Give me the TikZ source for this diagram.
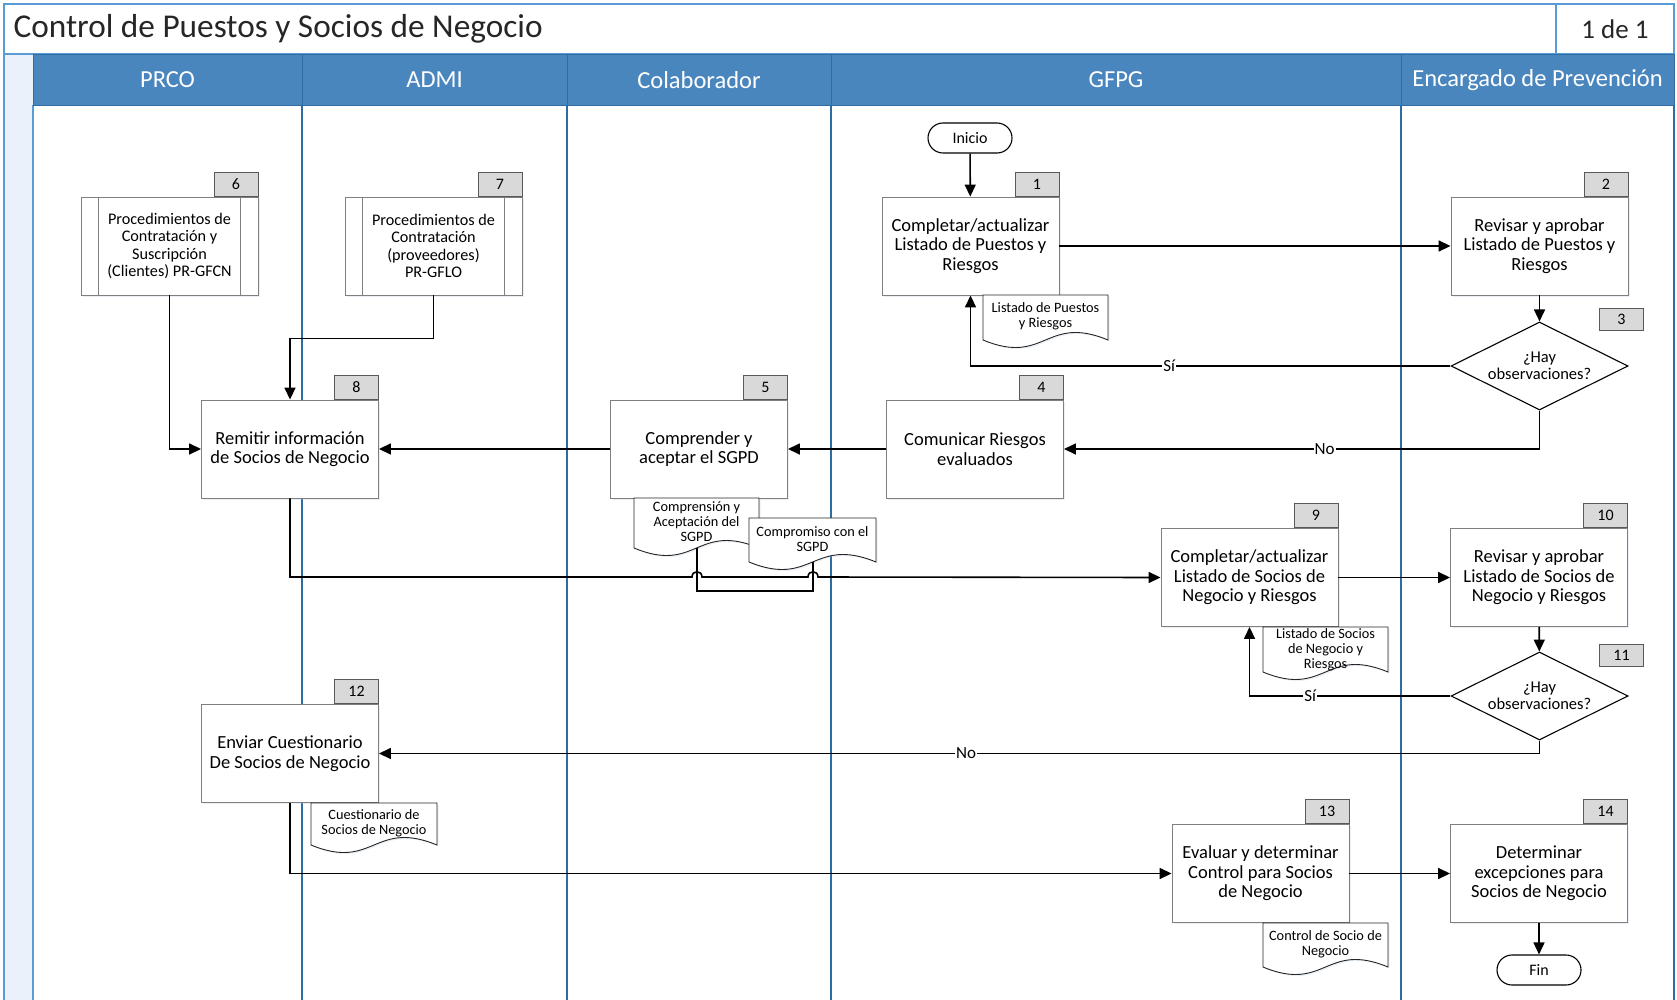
\documentclass[tikz,border=0pt]{standalone}
\usepackage{fontspec}
\setmainfont{Carlito}
\usetikzlibrary{arrows.meta,shapes.geometric,shapes.misc,shadows}
\definecolor{hdrblue}{HTML}{4A86BE}
\definecolor{lanedark}{HTML}{2E6DA4}
\definecolor{titleblue}{HTML}{5B9BD5}
\definecolor{stripfill}{HTML}{EAF1FB}
\definecolor{boxgray}{HTML}{7F7F7F}
\definecolor{tagfill}{HTML}{D9D9D9}
\definecolor{tagline}{HTML}{595959}
\definecolor{titletext}{HTML}{262626}
\newcommand{\mydoc}[7]{%
  \draw[docline] (#2,#3) -- ({#2+#4},#3) -- ({#2+#4},{#3+#5}) .. controls ({#2+0.5*#4},{#3+#5-26}) and ({#2+0.5*#4},{#3+#5+26}) .. (#2,{#3+#5}) -- cycle;
  \node[doctext] (#1) at ({#2+0.5*#4},{#3+0.5*#5+#6}) {#7};
}
\tikzset{
  softshadow/.style={drop shadow={shadow xshift=1.5pt, shadow yshift=-1.5pt, opacity=0.25, fill=lanedark!40}},
  proc/.style={draw=boxgray, line width=0.9pt, fill=white, minimum width=177pt, minimum height=98pt, align=center, font=\fontsize{18.5}{19.5}\selectfont, inner sep=2pt, softshadow},
  tagbox/.style={draw=tagline, line width=0.9pt, fill=tagfill, minimum width=44pt, minimum height=24pt, font=\fontsize{16}{18}\selectfont, inner sep=0pt},
  decision/.style={diamond, draw=black, line width=1.1pt, fill=white, minimum width=177pt, minimum height=88pt, shape aspect=2, inner sep=0pt, align=center, font=\fontsize{16.5}{17.5}\selectfont},
  term/.style={rounded rectangle, draw=black, line width=1.1pt, fill=white, minimum width=88pt, minimum height=30pt, font=\fontsize{16}{18}\selectfont, inner sep=2pt},
  docline/.style={draw=black!85, line width=0.9pt, fill=white, softshadow},
  doctext/.style={align=center, font=\fontsize{14.3}{15}\selectfont, inner sep=0pt},
  hdr/.style={rectangle, fill=hdrblue, draw=lanedark, line width=1pt, minimum height=51pt, inner sep=0pt, text=white, font=\fontsize{24.5}{26}\selectfont},
  lane/.style={draw=lanedark, line width=1.3pt},
  conn/.style={draw=black, line width=1.6pt, -{Triangle[length=12pt,width=11pt]}},
  plain/.style={draw=black, line width=1.6pt},
  lbl/.style={fill=white, inner sep=1pt, font=\fontsize{17}{19}\selectfont}
}
\begin{document}
\begin{tikzpicture}[x=1pt,y=-1pt]
\useasboundingbox (0,0) rectangle (1677,1000);
% pool strip and lanes
\fill[stripfill] (4,54) rectangle (33,1000);
\draw[titleblue, line width=1.2pt] (4,54) -- (4,1000);
\draw[titleblue, line width=1.2pt] (33,105) -- (33,1000);
\draw[lane] (302,105) -- (302,1000);
\draw[lane] (567,105) -- (567,1000);
\draw[lane] (831,105) -- (831,1000);
\draw[lane] (1401,105) -- (1401,1000);
\draw[lane] (1674,105) -- (1674,1000);
% title
\draw[titleblue, line width=1.5pt] (4,4) rectangle (1674,54);
\draw[titleblue, line width=1.2pt] (1556,4) -- (1556,54);
\node[anchor=west, text=titletext, font=\fontsize{33.3}{36}\selectfont] (title) at (10,29) {Control de Puestos y Socios de Negocio};
\node[text=titletext, font=\fontsize{27}{30}\selectfont] (page) at (1615,29) {1 de 1};
% headers
\node[hdr, minimum width=269pt] (hPRCO) at (167.5,80) {PRCO};
\node[hdr, minimum width=265pt] (hADMI) at (434.5,80) {ADMI};
\node[hdr, minimum width=264pt] (hCOL) at (699,80) {Colaborador};
\node[hdr, minimum width=570pt] (hGFPG) at (1116,80) {GFPG};
\node[hdr, minimum width=273pt] (hENC) at (1537.5,80) {Encargado de Prevención};

% terminators
\node[term] (inicio) at (970,138) {Inicio};
\node[term] (fin) at (1539,970) {Fin};

% process boxes
\node[proc] (b1) at (970.5,246) {Completar/actualizar\\Listado de Puestos y\\Riesgos};
\node[proc] (b2) at (1539.5,246) {Revisar y aprobar\\Listado de Puestos y\\Riesgos};
\node[proc] (b4) at (975,449) {Comunicar Riesgos\\evaluados};
\node[proc] (b5) at (699,449) {Comprender y\\aceptar el SGPD};
\node[proc] (b8) at (290,449) {Remitir información\\de Socios de Negocio};
\node[proc, font=\fontsize{16.2}{17.5}\selectfont] (b6) at (169.5,246) {Procedimientos de\\Contratación y\\Suscripción\\(Clientes) PR-GFCN};
\node[proc, font=\fontsize{16.2}{17.5}\selectfont] (b7) at (433.5,246) {Procedimientos de\\Contratación\\(proveedores)\\PR-GFLO};
\draw[boxgray, line width=0.9pt] ([xshift=18pt]b6.north west) -- ([xshift=18pt]b6.south west);
\draw[boxgray, line width=0.9pt] ([xshift=-18pt]b6.north east) -- ([xshift=-18pt]b6.south east);
\draw[boxgray, line width=0.9pt] ([xshift=18pt]b7.north west) -- ([xshift=18pt]b7.south west);
\draw[boxgray, line width=0.9pt] ([xshift=-18pt]b7.north east) -- ([xshift=-18pt]b7.south east);
\node[proc] (b9) at (1249.5,577.5) {Completar/actualizar\\Listado de Socios de\\Negocio y Riesgos};
\node[proc] (b10) at (1539,577.5) {Revisar y aprobar\\Listado de Socios de\\Negocio y Riesgos};
\node[proc] (b12) at (290,753.5) {Enviar Cuestionario\\De Socios de Negocio};
\node[proc] (b13) at (1260.5,873.5) {Evaluar y determinar\\Control para Socios\\de Negocio};
\node[proc] (b14) at (1539,873.5) {Determinar\\excepciones para\\Socios de Negocio};

% decisions
\node[decision] (d3) at (1539.5,366) {¿Hay\\observaciones?};
\node[decision] (d11) at (1539.5,696) {¿Hay\\observaciones?};

% number tags
\node[tagbox, anchor=south east] (t1) at (b1.north east) {1};
\node[tagbox, anchor=south east] (t2) at (b2.north east) {2};
\node[tagbox, minimum height=22pt] (t3) at (1621.5,319) {3};
\node[tagbox, anchor=south east] (t4) at (b4.north east) {4};
\node[tagbox, anchor=south east] (t5) at (b5.north east) {5};
\node[tagbox, anchor=south east] (t6) at (b6.north east) {6};
\node[tagbox, anchor=south east] (t7) at (b7.north east) {7};
\node[tagbox, anchor=south east] (t8) at (b8.north east) {8};
\node[tagbox, anchor=south east] (t9) at (b9.north east) {9};
\node[tagbox, anchor=south east] (t10) at (b10.north east) {10};
\node[tagbox, minimum height=22pt] (t11) at (1621.5,655) {11};
\node[tagbox, anchor=south east] (t12) at (b12.north east) {12};
\node[tagbox, anchor=south east] (t13) at (b13.north east) {13};
\node[tagbox, anchor=south east] (t14) at (b14.north east) {14};

% documents
\mydoc{dl1}{983}{295}{125}{45}{-1}{Listado de Puestos\\y Riesgos}
\mydoc{dl2}{1263}{627}{125}{45}{0.5}{Listado de Socios\\de Negocio y\\Riesgos}
\mydoc{dcq}{311}{803}{126}{42}{-1}{Cuestionario de\\Socios de Negocio}
\mydoc{dcs}{1263}{923}{125}{44}{-1}{Control de Socio de\\Negocio}
\mydoc{dca}{634}{498}{125}{50}{-1}{Comprensión y\\Aceptación del\\SGPD}
\mydoc{dcm}{749}{518}{127}{44}{-1}{Compromiso con el\\SGPD}

% connectors
\draw[conn] (inicio) -- (b1);
\draw[conn] (b1) -- (b2);
\draw[conn] (b2) -- (d3);
\draw[conn] (d3.west) -| node[lbl, pos=0.293] {Sí} (b1.south);
\draw[conn] (d3.south) |- node[lbl, pos=0.726] {No} (b4.east);
\draw[conn] (b4) -- (b5);
\draw[conn] (b5) -- (b8);
\draw[conn] (b6.south) |- (b8.west);
\draw[conn] (b7.south) -- ++(0,43) -| (b8.north);
\draw[conn] (b8.south) |- (692,577) .. controls (692,570) and (702,570) .. (702,577) -- (808,577) .. controls (808,570) and (818,570) .. (818,577) -- (b9.west);
\coordinate (ca) at (697,548);
\coordinate (cm) at (813,562);
\draw[plain] (ca) -- ++(0,43) -| (cm);
\draw[conn] (b9) -- (b10);
\draw[conn] (b10) -- (d11);
\draw[conn] (d11.west) -| node[lbl, pos=0.349] {Sí} (b9.south);
\draw[conn] (d11.south) |- node[lbl, pos=0.747] {No} (b12.east);
\draw[conn] (b12.south) |- (b13.west);
\draw[conn] (b13) -- (b14);
\draw[conn] (b14) -- (fin);
\end{tikzpicture}
\end{document}
